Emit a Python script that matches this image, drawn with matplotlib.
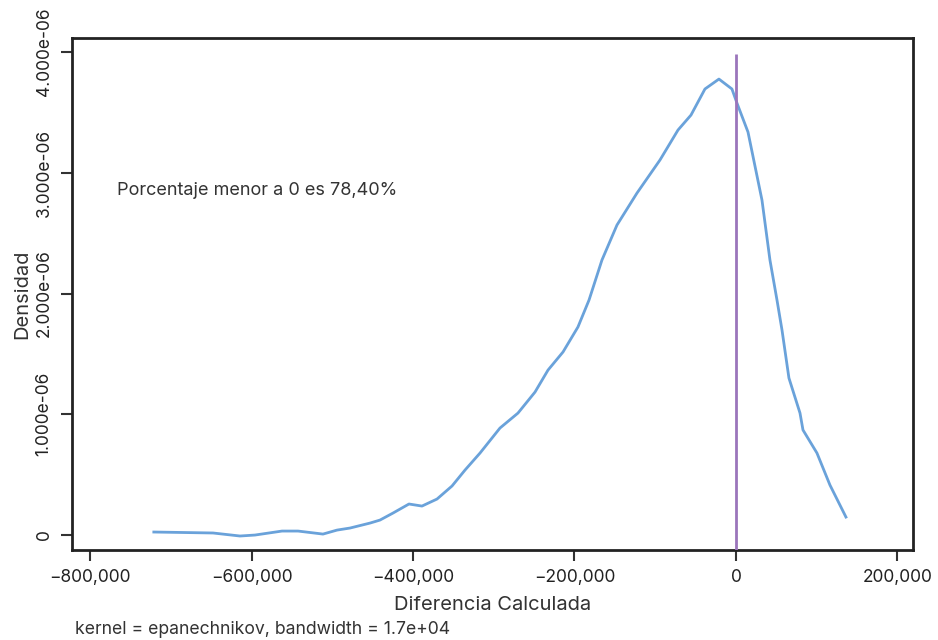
import matplotlib.pyplot as plt
from matplotlib.ticker import FuncFormatter

plt.rcParams['font.family'] = ['Inter', 'DejaVu Sans']

# kernel density estimate of the calculated difference
diff = [-721000, -647700, -614300, -595700, -562200, -542400, -511500, -494100,
        -478000, -453300, -440900, -424800, -405000, -388900, -370300, -351700,
        -335600, -317000, -292300, -270000, -248900, -232800, -214200, -195700,
        -182000, -166000, -147400, -122600, -94100, -71800, -55700, -38400,
        -21100, -5000, 1200, 14900, 32200, 42100, 50800, 57000, 65600, 79300,
        83000, 100300, 116400, 136200]
dens = [0.025, 0.017, -0.008, 0.000, 0.033, 0.033, 0.008, 0.041,
        0.058, 0.099, 0.124, 0.182, 0.257, 0.240, 0.298, 0.406,
        0.538, 0.679, 0.886, 1.010, 1.184, 1.366, 1.516, 1.723,
        1.946, 2.277, 2.567, 2.832, 3.106, 3.354, 3.478, 3.694,
        3.776, 3.694, 3.578, 3.337, 2.774, 2.277, 1.946, 1.698, 1.300, 1.010,
        0.870, 0.679, 0.414, 0.149]
dens = [d * 1e-6 for d in dens]

xticks = [-800000, -600000, -400000, -200000, 0, 200000]
yticks = [0, 1e-6, 2e-6, 3e-6, 4e-6]
ytick_labels = ['0', '1.000e-06', '2.000e-06', '3.000e-06', '4.000e-06']

fig = plt.figure(figsize=(9.38, 6.4), dpi=100)
ax = fig.add_axes([0.0768, 0.1406, 0.8965, 0.8])

ax.plot(diff, dens, color='#6aa2da', lw=2.0, zorder=3)
ax.vlines(0, -0.124e-6, 3.98e-6, color='#9b75bb', lw=2.0, zorder=4)

ax.set_xlim(-822300, 219200)
ax.set_ylim(-0.124e-6, 4.116e-6)

ax.set_xticks(xticks)
ax.xaxis.set_major_formatter(FuncFormatter(lambda v, p: '{:,.0f}'.format(v).replace('-', '\u2212')))
ax.set_yticks(yticks)
ax.set_yticklabels(ytick_labels, rotation=90, va='center')

ax.tick_params(axis='both', direction='out', length=8, width=1.5, colors='#333333',
               labelsize=12.5, labelcolor='#222222')
ax.tick_params(axis='y', pad=6)
ax.tick_params(axis='x', pad=6)

for s in ax.spines.values():
    s.set_linewidth(2)
    s.set_color('#222222')

ax.set_xlabel('Diferencia Calculada', fontsize=14.5, color='#333333', labelpad=7)
ax.set_ylabel('Densidad', fontsize=14.5, color='#333333', labelpad=3)

ax.text(-766600, 2.857e-6, 'Porcentaje menor a 0 es 78,40%', fontsize=13,
        color='#333333', va='center', ha='left')

fig.text(0.08, 0.016, 'kernel = epanechnikov, bandwidth = 1.7e+04', fontsize=12.7,
         color='#333333', ha='left', va='center')

fig.savefig('out.png', dpi=100)
